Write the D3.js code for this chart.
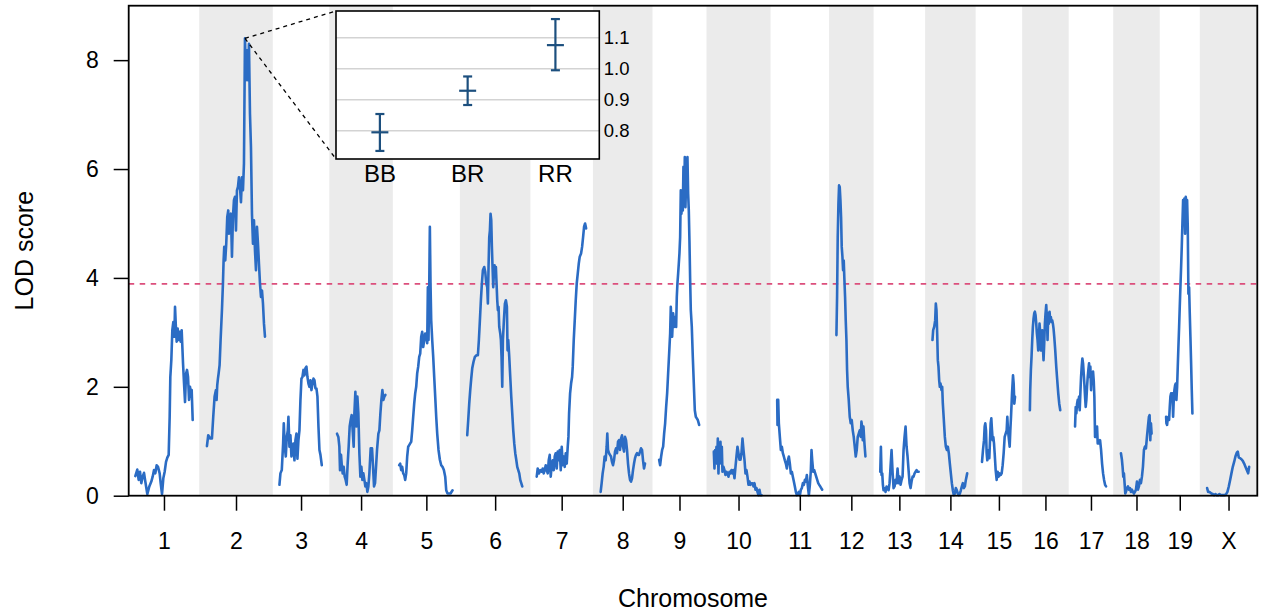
<!DOCTYPE html>
<html><head><meta charset="utf-8">
<script src="https://cdn.jsdelivr.net/npm/d3@7/dist/d3.min.js"></script>
<style>
html,body{margin:0;padding:0;background:#fff;}
text{font-family:"Liberation Sans",Arial,Helvetica,sans-serif;fill:#000;}
</style></head>
<body><svg id="chart" width="1261" height="613"></svg>
<script>
// ---------- data ----------
const chrNames = ["1","2","3","4","5","6","7","8","9","10","11","12","13","14","15","16","17","18","19","X"];
const chrLengths = [116,122,88,102,109,116,100,94,83,103,92,64,78,76,68,68,64,68,55,90]; // cM
const chrGap = 25; // cM
const yTicks = [0,2,4,6,8];
const lodThreshold = 3.89;

// LOD curves: [position (cM), LOD]
const lodChr1 = [[0.7,0.36],[4.7,0.48],[7.4,0.29],[10.1,0.44],[12.7,0.23],[15.4,0.35],[18.1,0.42],[20.7,0.26],[24.7,0.03],[28.7,0.17],[32.7,0.26],[35.4,0.35],[38.1,0.47],[40.7,0.41],[43.4,0.56],[46.1,0.53],[49.4,0.41],[51.4,0.23],[54.1,0.03],[56.7,0.32],[59.4,0.44],[62.1,0.62],[64.7,0.70],[67.4,0.75],[69.4,1.45],[70.7,2.18],[72.7,2.49],[74.7,3.04],[76.7,3.19],[78.7,2.92],[80.1,3.47],[82.1,3.04],[83.4,2.83],[85.4,3.07],[87.4,2.86],[89.4,3.01],[91.4,2.83],[93.4,3.04],[96.1,2.43],[98.1,2.06],[100.1,1.72],[102.1,2.24],[104.1,2.31],[106.1,2.18],[108.1,1.76],[110.1,2.00],[112.1,1.82],[113.4,1.94],[115.4,1.39]];
const lodChr2 = [[2.9,0.91],[5.5,1.11],[9.5,1.05],[12.9,1.05],[15.5,1.45],[18.2,1.82],[20.9,1.94],[22.2,1.76],[23.5,2.03],[24.9,2.15],[26.2,2.24],[28.2,2.40],[30.2,2.86],[32.9,3.41],[34.9,3.90],[36.2,4.32],[37.5,4.57],[39.5,4.32],[41.5,4.63],[43.5,5.12],[45.5,5.24],[46.9,4.81],[48.9,5.00],[50.9,5.18],[52.9,4.39],[54.9,5.12],[56.9,5.43],[58.9,5.49],[60.9,4.87],[62.9,5.61],[64.9,5.67],[66.9,5.85],[68.9,5.67],[70.9,5.39],[72.9,5.85],[74.9,5.61],[76.9,6.10],[78.9,8.40],[80.9,7.63],[82.9,8.18],[84.9,7.63],[86.9,8.30],[88.9,7.02],[90.9,6.40],[92.9,5.18],[94.9,4.63],[96.9,5.06],[98.9,4.51],[100.9,4.14],[102.9,4.94],[104.9,4.63],[106.9,4.26],[108.9,3.90],[110.9,3.65],[112.9,3.77],[114.9,3.53],[116.9,3.16],[118.9,2.92]];
const lodChr3 = [[0.8,0.20],[2.8,0.41],[5.5,0.47],[8.2,0.96],[9.5,1.33],[11.5,0.90],[13.5,0.72],[15.5,1.08],[17.5,1.20],[18.8,1.45],[20.8,0.90],[22.8,1.11],[24.8,0.72],[26.8,0.81],[28.8,0.96],[30.8,0.65],[32.8,1.02],[34.8,1.14],[36.8,0.68],[38.8,1.02],[40.8,1.20],[42.8,1.76],[44.8,2.15],[46.8,2.18],[48.8,2.31],[50.8,2.21],[52.8,2.34],[54.8,2.37],[56.8,2.18],[58.8,2.06],[60.8,2.00],[62.8,2.12],[64.8,1.94],[66.8,2.06],[68.8,2.15],[70.8,2.12],[72.8,1.97],[74.8,1.97],[76.8,1.82],[78.8,1.27],[80.8,0.84],[82.8,0.75],[85.5,0.56]];
const lodChr4 = [[2.9,1.14],[5.6,1.08],[7.6,0.90],[8.9,0.47],[10.9,0.75],[12.2,0.59],[14.2,0.41],[16.2,0.53],[18.2,0.35],[20.2,0.29],[22.2,0.20],[24.2,0.59],[26.2,0.90],[28.2,1.27],[30.2,1.39],[32.2,1.48],[34.2,1.20],[36.2,0.90],[37.6,1.51],[39.6,1.91],[41.6,1.27],[43.6,1.82],[45.6,1.51],[47.6,0.78],[49.6,0.35],[51.6,0.53],[53.6,0.29],[55.6,0.41],[57.6,0.29],[59.6,0.17],[61.6,0.23],[63.6,0.07],[65.6,0.17],[67.6,0.41],[70.2,0.87],[72.9,0.87],[74.9,0.53],[76.9,0.17],[78.9,0.23],[80.9,0.53],[82.9,0.84],[85.6,1.14],[87.6,1.20],[89.6,1.51],[91.6,1.76],[93.6,1.94],[95.6,1.76],[97.6,1.82],[99.6,1.85]];
const lodChr5 = [[0.2,0.56],[2.2,0.59],[4.2,0.47],[6.2,0.53],[8.2,0.41],[10.2,0.38],[12.2,0.29],[14.2,0.41],[16.2,0.72],[18.2,0.90],[20.2,0.93],[22.2,0.96],[24.2,0.99],[26.2,1.20],[28.2,1.45],[30.2,1.69],[32.2,1.88],[34.2,2.00],[36.2,2.25],[38.2,2.37],[40.2,2.55],[42.2,2.61],[44.2,2.92],[46.2,3.01],[48.2,2.73],[50.2,2.86],[52.2,2.98],[54.2,2.92],[56.2,2.80],[57.5,3.83],[58.8,2.86],[60.2,3.83],[61.5,4.94],[62.8,3.90],[64.2,3.22],[66.2,2.86],[68.2,2.55],[70.2,2.18],[72.2,1.82],[74.2,1.45],[76.2,1.14],[78.8,0.84],[81.5,0.66],[84.2,0.56],[86.8,0.53],[89.5,0.47],[92.2,0.35],[94.2,0.10],[96.8,0.04],[99.5,0.04],[102.8,0.04],[106.8,0.10]];
const lodChr6 = [[2.2,1.11],[4.2,1.39],[6.2,1.69],[8.2,1.94],[10.2,2.15],[12.2,2.34],[14.8,2.46],[17.5,2.55],[20.8,2.58],[23.5,2.58],[25.5,2.86],[27.5,3.22],[29.5,3.59],[31.5,3.90],[33.5,4.14],[36.2,4.20],[38.2,4.11],[40.2,3.90],[42.2,3.83],[43.5,3.53],[44.8,4.20],[46.2,4.75],[47.5,4.87],[48.8,5.18],[50.2,5.06],[51.5,4.57],[52.8,4.20],[54.2,3.83],[55.5,4.08],[56.8,4.23],[58.2,4.02],[59.5,4.20],[60.8,3.90],[62.2,3.59],[63.5,3.41],[64.8,3.47],[66.2,3.10],[68.2,2.98],[69.5,2.86],[70.8,2.55],[72.2,2.00],[73.5,2.86],[75.5,3.22],[77.5,3.53],[79.5,3.59],[81.5,3.47],[82.8,2.67],[84.2,2.86],[86.2,2.55],[88.2,2.18],[90.2,1.82],[92.2,1.51],[94.2,1.20],[96.2,0.96],[98.2,0.78],[100.2,0.66],[102.2,0.53],[104.2,0.47],[106.2,0.41],[108.2,0.29],[110.2,0.23],[112.2,0.17]];
const lodChr7 = [[0.1,0.35],[2.1,0.50],[4.8,0.41],[7.4,0.47],[10.1,0.44],[12.1,0.50],[14.1,0.41],[16.1,0.47],[18.1,0.56],[20.1,0.47],[22.1,0.41],[24.1,0.65],[26.1,0.75],[28.1,0.35],[30.1,0.56],[32.1,0.65],[34.1,0.47],[36.1,0.72],[38.1,0.78],[40.1,0.50],[42.1,0.81],[44.1,0.65],[46.1,0.84],[48.1,0.47],[50.1,0.90],[52.1,0.56],[54.1,0.72],[56.1,0.53],[58.1,0.78],[60.1,0.59],[62.1,0.90],[63.5,1.08],[64.8,1.51],[66.8,1.88],[68.8,2.06],[70.8,2.18],[72.1,2.37],[74.1,2.86],[76.1,3.22],[78.1,3.59],[80.1,3.90],[82.1,4.08],[84.1,4.26],[86.1,4.39],[88.8,4.45],[90.8,4.57],[92.8,4.75],[94.8,4.94],[96.8,5.00],[98.8,4.91]];
const lodChr8 = [[2.9,0.07],[4.9,0.23],[6.9,0.41],[8.9,0.53],[10.9,0.72],[12.9,0.65],[14.9,0.90],[16.2,1.14],[17.6,0.84],[19.6,0.78],[21.6,0.75],[23.6,0.72],[25.6,0.62],[27.6,0.56],[29.6,0.65],[31.6,0.81],[33.6,0.87],[35.6,0.78],[37.6,0.99],[39.6,1.02],[41.6,0.84],[43.6,1.05],[45.6,1.11],[47.6,0.90],[49.6,0.81],[51.6,1.08],[53.6,1.02],[55.6,0.84],[57.6,0.59],[59.6,0.41],[61.6,0.29],[63.6,0.26],[65.6,0.32],[67.6,0.47],[69.6,0.59],[71.6,0.69],[73.6,0.75],[75.6,0.78],[77.6,0.75],[79.6,0.75],[81.6,0.81],[83.6,0.87],[85.6,0.84],[87.6,0.65],[89.6,0.50],[91.6,0.59]];
const lodChr9 = [[0.8,0.66],[2.8,0.56],[4.8,0.72],[6.8,0.84],[8.8,0.90],[10.8,1.14],[12.8,1.33],[14.8,1.63],[16.8,1.88],[18.8,2.25],[20.8,2.61],[22.8,2.98],[24.1,3.47],[25.4,3.22],[26.8,2.92],[28.8,3.35],[30.8,3.10],[32.8,3.28],[34.8,3.10],[36.1,3.65],[37.4,3.90],[38.8,4.08],[40.1,4.26],[41.4,4.45],[42.8,4.75],[44.1,5.61],[45.4,5.18],[46.8,5.49],[48.1,5.24],[49.4,6.04],[50.8,5.36],[52.1,6.22],[53.4,5.30],[54.8,5.79],[56.1,5.49],[57.4,6.22],[58.8,5.55],[60.1,5.24],[61.4,4.69],[62.8,3.96],[64.1,3.41],[66.1,3.10],[68.1,2.55],[70.1,2.06],[72.1,1.57],[74.1,1.45],[76.1,1.42],[78.1,1.39],[80.8,1.30]];
const lodChr10 = [[2.1,0.81],[3.4,0.50],[4.8,0.84],[6.1,0.66],[7.4,0.90],[8.8,0.59],[10.1,1.05],[11.4,0.41],[12.8,0.90],[14.1,0.72],[15.4,0.99],[16.8,0.59],[18.1,0.90],[19.4,0.44],[21.4,0.53],[23.4,0.47],[25.4,0.38],[27.4,0.44],[29.4,0.41],[31.4,0.35],[33.4,0.44],[35.4,0.41],[37.4,0.47],[39.4,0.41],[41.4,0.47],[43.4,0.32],[45.4,0.53],[47.4,0.72],[49.4,0.90],[51.4,0.78],[53.4,0.66],[55.4,0.66],[57.4,0.78],[59.4,1.05],[61.4,0.84],[63.4,0.66],[65.4,0.41],[67.4,0.47],[69.4,0.35],[71.4,0.20],[73.4,0.26],[75.4,0.20],[77.4,0.23],[79.4,0.23],[81.4,0.17],[83.4,0.23],[85.4,0.11],[87.4,0.14],[89.4,0.07],[91.4,0.01],[93.4,0.11],[95.4,0.01],[97.4,0.01]];
const lodChr11 = [[0.8,1.76],[1.4,1.30],[2.8,1.76],[4.1,1.33],[6.1,1.08],[8.1,0.84],[10.1,0.90],[12.1,0.78],[14.1,0.72],[16.1,0.65],[18.1,0.59],[20.1,0.50],[22.1,0.65],[24.1,0.72],[26.1,0.59],[28.1,0.41],[30.1,0.44],[32.1,0.35],[34.1,0.26],[36.1,0.17],[38.1,0.07],[40.1,0.01],[42.1,0.04],[44.1,0.07],[46.1,0.01],[48.1,0.11],[50.1,0.14],[52.1,0.23],[54.1,0.20],[56.1,0.29],[58.1,0.26],[60.1,0.38],[62.1,0.17],[64.1,0.01],[66.1,0.20],[68.1,0.47],[69.4,0.84],[70.8,0.65],[72.8,0.44],[74.8,0.47],[76.8,0.41],[78.8,0.35],[80.8,0.29],[82.8,0.23],[84.8,0.20],[86.8,0.17],[88.8,0.14],[90.8,0.11]];
const lodChr12 = [[2.2,2.95],[3.5,3.65],[4.8,4.75],[6.2,5.36],[7.5,5.70],[8.8,5.67],[10.2,5.43],[11.5,5.12],[12.8,4.57],[14.2,4.39],[15.5,4.14],[16.8,4.32],[18.2,3.96],[19.5,3.65],[20.8,3.22],[22.2,2.86],[23.5,2.31],[24.8,2.00],[26.8,1.76],[28.8,1.45],[30.8,1.33],[32.8,1.39],[34.8,1.20],[36.8,1.08],[38.8,0.90],[40.8,0.72],[42.8,0.84],[44.8,1.08],[46.8,1.14],[48.8,1.20],[50.8,1.08],[52.2,1.36],[53.5,1.27],[54.8,1.02],[56.2,1.27],[58.2,0.96],[60.2,0.72]];
const lodChr13 = [[0.8,0.44],[2.1,0.90],[3.4,0.38],[4.8,0.41],[6.1,0.20],[7.4,0.10],[9.4,0.14],[11.4,0.07],[13.4,0.17],[15.4,0.14],[17.4,0.10],[19.4,0.23],[21.4,0.53],[23.4,0.84],[25.4,0.44],[27.4,0.14],[29.4,0.17],[31.4,0.29],[33.4,0.23],[35.4,0.50],[37.4,0.23],[39.4,0.35],[41.4,0.20],[43.4,0.29],[45.4,0.35],[47.4,0.84],[49.4,1.08],[51.4,1.27],[53.4,0.90],[55.4,0.72],[57.4,0.47],[59.4,0.23],[61.4,0.14],[63.4,0.26],[65.4,0.35],[67.4,0.35],[69.4,0.41],[71.4,0.44],[73.4,0.47],[75.4,0.44],[77.6,0.44]];
const lodChr14 = [[2.2,2.86],[3.6,3.04],[5.6,3.10],[7.6,3.22],[8.9,3.53],[10.2,3.41],[11.6,2.98],[12.9,2.49],[14.2,2.37],[15.6,2.12],[16.9,2.00],[18.2,2.06],[20.2,1.94],[21.6,2.00],[22.9,1.69],[24.9,1.39],[26.9,1.08],[28.9,0.90],[30.9,0.84],[32.9,0.90],[34.9,0.78],[36.9,0.59],[38.9,0.41],[40.9,0.23],[42.9,0.10],[44.9,0.01],[46.9,0.04],[48.9,0.14],[50.9,0.10],[52.9,0.04],[54.9,0.01],[56.9,0.04],[58.9,0.10],[60.9,0.17],[62.9,0.23],[64.9,0.14],[66.9,0.17],[68.9,0.29],[71.6,0.41]];
const lodChr15 = [[0.2,0.62],[2.2,0.84],[4.2,1.02],[5.5,1.27],[6.8,1.33],[8.2,1.20],[9.5,0.78],[10.8,0.65],[12.2,0.78],[13.5,0.84],[14.8,0.69],[16.2,1.02],[17.5,1.33],[18.8,1.42],[20.2,1.20],[21.5,1.02],[22.8,1.08],[24.2,0.96],[25.5,0.78],[27.5,0.47],[29.5,0.29],[31.5,0.44],[33.5,0.35],[35.5,0.41],[37.5,0.38],[39.5,0.41],[41.5,0.56],[43.5,0.78],[45.5,1.08],[47.5,1.14],[49.5,1.20],[50.8,1.45],[52.2,1.20],[53.5,1.08],[55.5,0.90],[56.8,1.20],[58.2,1.45],[60.2,1.88],[62.2,2.21],[63.5,2.06],[64.8,1.69],[66.2,1.82]];
const lodChr16 = [[2.9,1.57],[3.6,1.94],[4.9,2.31],[6.2,2.55],[7.6,2.86],[8.9,3.10],[10.2,3.25],[11.6,3.35],[12.9,3.38],[14.2,3.32],[15.6,3.16],[16.9,2.98],[18.2,2.86],[19.6,2.67],[20.9,2.92],[22.2,3.16],[23.6,2.98],[24.9,2.67],[26.2,2.86],[27.6,3.04],[28.9,2.73],[30.2,2.49],[31.6,2.80],[32.9,3.16],[34.2,3.35],[35.6,3.50],[36.9,3.28],[38.2,2.86],[39.6,3.35],[40.9,3.16],[42.2,3.38],[43.6,3.22],[44.9,3.28],[46.2,3.19],[47.6,3.22],[48.9,3.16],[50.2,3.07],[51.6,2.92],[53.6,2.67],[55.6,2.37],[57.6,2.12],[59.6,1.88],[61.6,1.69],[63.6,1.57]];
const lodChr17 = [[0.2,1.27],[1.5,1.63],[2.8,1.51],[4.2,1.69],[5.5,1.76],[6.8,1.63],[8.2,1.82],[9.5,1.57],[10.8,1.88],[12.2,2.18],[13.5,2.37],[14.8,2.52],[16.2,2.43],[17.5,2.25],[18.8,2.06],[20.2,1.82],[21.5,1.63],[22.8,1.76],[24.2,2.00],[25.5,2.18],[26.8,2.31],[28.2,2.43],[29.5,2.18],[30.8,2.37],[32.2,1.94],[33.5,2.25],[34.8,2.06],[36.2,2.28],[37.5,2.12],[38.8,1.82],[40.2,1.08],[41.5,1.27],[42.8,1.08],[44.2,1.27],[45.5,0.96],[46.8,1.02],[48.2,0.96],[50.2,1.02],[52.2,0.84],[54.2,0.59],[56.2,0.41],[58.2,0.29],[60.2,0.20],[62.2,0.17]];
const lodChr18 = [[2.9,0.78],[4.9,0.66],[6.2,0.53],[7.6,0.35],[8.9,0.41],[10.2,0.23],[11.6,0.04],[12.9,0.07],[14.9,0.14],[16.9,0.17],[18.9,0.11],[20.9,0.14],[22.9,0.07],[24.9,0.11],[26.9,0.07],[28.9,0.04],[30.9,0.07],[32.9,0.11],[34.9,0.26],[36.9,0.11],[38.9,0.17],[40.9,0.29],[42.9,0.23],[44.9,0.35],[46.9,0.53],[48.9,0.84],[50.9,0.90],[52.9,0.87],[54.9,1.08],[56.9,1.27],[58.9,1.45],[60.2,1.48],[61.6,1.02],[62.9,1.33],[64.2,1.14]];
const lodChr19 = [[0.2,1.45],[0.8,1.33],[2.2,1.30],[3.5,1.42],[4.8,1.45],[6.2,1.39],[7.5,1.63],[8.8,1.82],[10.2,1.88],[11.5,1.82],[12.8,1.88],[14.2,1.45],[15.5,1.76],[16.8,1.94],[18.2,2.03],[19.5,2.06],[20.8,1.76],[22.2,2.00],[23.5,2.37],[24.8,2.73],[26.2,3.10],[27.5,3.47],[28.8,3.83],[30.2,4.20],[31.5,4.57],[32.8,5.00],[34.2,5.43],[35.5,5.24],[36.8,5.46],[38.2,4.81],[39.5,5.49],[40.8,5.36],[42.2,5.43],[43.5,4.94],[44.8,3.71],[46.2,3.83],[47.5,3.35],[48.8,2.92],[50.2,2.43],[51.5,1.94],[52.8,1.51]];
const lodChrX = [[2.2,0.14],[4.2,0.07],[6.2,0.07],[8.2,0.06],[10.8,0.04],[13.5,0.03],[16.2,0.01],[18.8,0.03],[21.5,0.01],[24.2,0.01],[26.8,0.03],[29.5,0.01],[32.2,0.01],[34.8,0.01],[37.5,0.01],[40.2,0.03],[42.8,0.07],[45.5,0.17],[48.2,0.29],[50.8,0.41],[53.5,0.53],[56.2,0.62],[58.8,0.72],[61.5,0.79],[63.5,0.81],[65.5,0.70],[68.2,0.69],[70.8,0.67],[73.5,0.64],[76.2,0.59],[78.8,0.53],[81.5,0.47],[84.2,0.41],[86.2,0.53]];
const lodCurves = [lodChr1,lodChr2,lodChr3,lodChr4,lodChr5,lodChr6,lodChr7,lodChr8,lodChr9,lodChr10,lodChr11,lodChr12,lodChr13,lodChr14,lodChr15,lodChr16,lodChr17,lodChr18,lodChr19,lodChrX];

// inset: phenotype by genotype at chr 2 peak
const genoLabels = ["BB","BR","RR"];
const genoMeans = [0.795, 0.929, 1.076];
const genoLower = [0.735, 0.883, 0.995];
const genoUpper = [0.854, 0.975, 1.160];
const insetTicks = [0.8, 0.9, 1.0, 1.1];

// ---------- layout ----------
const FONT = '"Liberation Sans",Arial,Helvetica,sans-serif';
const plot = {left:128.7, right:1257.3, top:5.7, bottom:495.7};
const svg = d3.select("#chart");

const offsets = [];
let acc = 0;
chrLengths.forEach(L => { offsets.push(acc + chrGap/2); acc += L + chrGap; });
const x = d3.scaleLinear().domain([0, acc]).range([plot.left, plot.right]);
const y = d3.scaleLinear().domain([0, 9]).range([plot.bottom, plot.top]);

// bands
svg.append("g").selectAll("rect")
  .data(chrLengths.map((L,i)=>({i, L})).filter(d => d.i % 2 === 1))
  .join("rect")
  .attr("x", d => x(offsets[d.i] - chrGap/2))
  .attr("width", d => x(offsets[d.i] + d.L + chrGap/2) - x(offsets[d.i] - chrGap/2))
  .attr("y", plot.top).attr("height", plot.bottom - plot.top)
  .attr("fill", "#ebebeb");

// threshold
svg.append("line")
  .attr("x1", plot.left).attr("x2", plot.right)
  .attr("y1", y(lodThreshold)).attr("y2", y(lodThreshold))
  .attr("stroke", "#dc4f7c").attr("stroke-width", 1.6)
  .attr("stroke-dasharray", "5.5,5.5");

// curves
const line = d3.line();
svg.append("g").selectAll("path")
  .data(lodCurves.map((c,i)=>c.map(p=>[x(offsets[i]+p[0]), y(p[1])])))
  .join("path")
  .attr("d", d => line(d))
  .attr("fill", "none").attr("stroke", "#2b6cc4")
  .attr("stroke-width", 2.6).attr("stroke-linejoin", "round").attr("stroke-linecap","round");

// axes
const yAxis = svg.append("g").attr("transform", `translate(${plot.left},0)`)
  .call(d3.axisLeft(y).tickValues(yTicks).tickSize(15).tickPadding(15).tickFormat(d3.format("d")));
const centers = chrLengths.map((L,i) => offsets[i] + L/2);
const xAxis = svg.append("g").attr("transform", `translate(0,${plot.bottom})`)
  .call(d3.axisBottom(x).tickValues(centers).tickSize(15).tickPadding(22.3).tickFormat((d,i)=>chrNames[i]));
[yAxis, xAxis].forEach(g => {
  g.select(".domain").remove();
  g.selectAll(".tick line").attr("stroke", "#000").attr("stroke-width", 1.5);
  g.selectAll(".tick text").attr("font-size", 23).attr("font-family", FONT).attr("fill", "#000");
});

// frame
svg.append("rect").attr("x", plot.left).attr("y", plot.top)
  .attr("width", plot.right - plot.left).attr("height", plot.bottom - plot.top)
  .attr("fill", "none").attr("stroke", "#000").attr("stroke-width", 1.8);

// titles
svg.append("text").attr("transform", `translate(33,${(plot.top+plot.bottom)/2}) rotate(-90)`)
  .attr("text-anchor", "middle").attr("font-size", 25).text("LOD score");
svg.append("text").attr("x", (plot.left+plot.right)/2).attr("y", 607)
  .attr("text-anchor", "middle").attr("font-size", 25).text("Chromosome");

// ---------- inset ----------
const inset = {left:336, right:599.3, top:11, bottom:159};
const peakIdx = 1;
const peak = lodCurves[peakIdx].reduce((a,b)=> b[1] > a[1] ? b : a);
const px = x(offsets[peakIdx] + peak[0]), py = y(peak[1]);
[[inset.left, inset.top],[inset.left, inset.bottom]].forEach(([ex,ey]) => {
  svg.append("line").attr("x1", px).attr("y1", py).attr("x2", ex).attr("y2", ey)
    .attr("stroke", "#000").attr("stroke-width", 1.3).attr("stroke-dasharray", "4,4");
});

const ix = d3.scalePoint().domain(genoLabels).range([inset.left, inset.right]).padding(0.5);
const iy = d3.scaleLinear().domain([0.709, 1.186]).range([inset.bottom, inset.top]);
const ig = svg.append("g");
ig.append("rect").attr("x", inset.left).attr("y", inset.top)
  .attr("width", inset.right-inset.left).attr("height", inset.bottom-inset.top).attr("fill", "#fff");
ig.selectAll("line.grid").data(insetTicks).join("line").attr("class","grid")
  .attr("x1", inset.left).attr("x2", inset.right)
  .attr("y1", d=>iy(d)).attr("y2", d=>iy(d))
  .attr("stroke", "#d3d3d3").attr("stroke-width", 1.4);
const eb = ig.selectAll("g.eb").data(genoLabels).join("g").attr("class","eb")
  .attr("stroke", "#1c4f7e").attr("stroke-width", 2.2).attr("fill","none");
eb.append("line").attr("x1", d=>ix(d)).attr("x2", d=>ix(d))
  .attr("y1", (d,i)=>iy(genoLower[i])).attr("y2", (d,i)=>iy(genoUpper[i]));
eb.append("line").attr("x1", d=>ix(d)-4.5).attr("x2", d=>ix(d)+4.5)
  .attr("y1", (d,i)=>iy(genoLower[i])).attr("y2", (d,i)=>iy(genoLower[i]));
eb.append("line").attr("x1", d=>ix(d)-4.5).attr("x2", d=>ix(d)+4.5)
  .attr("y1", (d,i)=>iy(genoUpper[i])).attr("y2", (d,i)=>iy(genoUpper[i]));
eb.append("line").attr("x1", d=>ix(d)-8.5).attr("x2", d=>ix(d)+8.5)
  .attr("y1", (d,i)=>iy(genoMeans[i])).attr("y2", (d,i)=>iy(genoMeans[i]));
ig.append("rect").attr("x", inset.left).attr("y", inset.top)
  .attr("width", inset.right-inset.left).attr("height", inset.bottom-inset.top)
  .attr("fill", "none").attr("stroke", "#000").attr("stroke-width", 1.6);
ig.selectAll("text.yl").data(insetTicks).join("text").attr("class","yl")
  .attr("x", inset.right + 4.5).attr("y", d=>iy(d)).attr("dy","0.36em")
  .attr("font-size", 18.5).text(d => d3.format(".1f")(d));
ig.selectAll("text.xl").data(genoLabels).join("text").attr("class","xl")
  .attr("x", d=>ix(d)).attr("y", 181.7).attr("text-anchor","middle")
  .attr("font-size", 24).text(d=>d);
</script>
</body></html>
